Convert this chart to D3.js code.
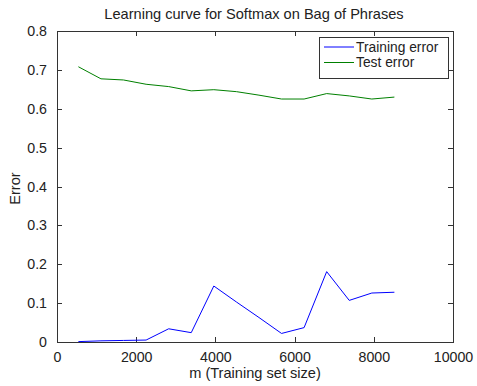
<!DOCTYPE html>
<html><head><meta charset="utf-8">
<script src="https://cdn.jsdelivr.net/npm/d3@7"></script>
<style>body{margin:0;background:#fff}svg{display:block}text{font-family:"Liberation Sans",Arial,sans-serif;fill:#222}</style>
</head><body>
<script>
const trainSizes = [540, 1110, 1680, 2250, 2820, 3390, 3960, 4530, 5100, 5670, 6240, 6810, 7380, 7950, 8520];
const trainingError = [0.001, 0.003, 0.004, 0.005, 0.034, 0.024, 0.144, 0.103, 0.063, 0.022, 0.037, 0.181, 0.107, 0.126, 0.128];
const testError = [0.708, 0.677, 0.674, 0.663, 0.657, 0.646, 0.649, 0.644, 0.635, 0.625, 0.625, 0.639, 0.633, 0.625, 0.630];
const xTicks = [0, 2000, 4000, 6000, 8000, 10000];
const yTicks = [0, 0.1, 0.2, 0.3, 0.4, 0.5, 0.6, 0.7, 0.8];
const seriesNames = ["Training error", "Test error"];
const seriesColors = ["#0000ff", "#008000"];

const W = 477, H = 386;
const L = 57, R = 453, T = 31, B = 342;
const svg = d3.select("body").append("svg").attr("width", W).attr("height", H);
const x = d3.scaleLinear().domain([0, 10000]).range([L, R]);
const y = d3.scaleLinear().domain([0, 0.8]).range([B, T]);

svg.append("rect").attr("x", L).attr("y", T).attr("width", R - L).attr("height", B - T)
  .attr("fill", "none").attr("stroke", "#333").attr("stroke-width", 1).attr("shape-rendering", "crispEdges");

const fmtY = d => d === 0 ? "0" : d3.format(".1f")(d);
const xb = svg.append("g").attr("transform", `translate(0,${B})`)
  .call(d3.axisBottom(x).tickValues(xTicks).tickSize(-5).tickPadding(11).tickFormat(d3.format("d")));
const xt = svg.append("g").attr("transform", `translate(0,${T})`)
  .call(d3.axisTop(x).tickValues(xTicks).tickSize(-5).tickFormat(""));
const yl = svg.append("g").attr("transform", `translate(${L},0)`)
  .call(d3.axisLeft(y).tickValues(yTicks).tickSize(-5).tickPadding(10).tickFormat(fmtY));
const yr = svg.append("g").attr("transform", `translate(${R},0)`)
  .call(d3.axisRight(y).tickValues(yTicks).tickSize(-5).tickFormat(""));
[xb, xt, yl, yr].forEach(g => {
  g.select(".domain").remove();
  g.selectAll("line").attr("stroke", "#333").attr("shape-rendering", "crispEdges");
  g.selectAll("text").attr("font-size", 14.2).attr("fill", "#222").attr("font-family", '"Liberation Sans",Arial,sans-serif');
});
xb.selectAll("text").attr("dy", "0.6em");

const line = d3.line().x((d, i) => x(trainSizes[i])).y(d => y(d));
[trainingError, testError].forEach((s, k) => {
  svg.append("path").datum(s).attr("d", line).attr("fill", "none")
    .attr("stroke", seriesColors[k]).attr("stroke-width", 1);
});

svg.append("text").attr("x", 254).attr("y", 19).attr("text-anchor", "middle").attr("font-size", 14.6)
  .text("Learning curve for Softmax on Bag of Phrases");
svg.append("text").attr("x", x(5000)).attr("y", 378).attr("text-anchor", "middle").attr("font-size", 14.6)
  .text("m (Training set size)");
svg.append("text").attr("transform", `translate(20,${(T + B) / 2 + 2}) rotate(-90)`).attr("text-anchor", "middle").attr("font-size", 14.6)
  .text("Error");

const lg = svg.append("g");
lg.append("rect").attr("x", 319.5).attr("y", 37.5).attr("width", 129).attr("height", 41)
  .attr("fill", "#fff").attr("stroke", "#333").attr("stroke-width", 1);
seriesNames.forEach((n, k) => {
  const yy = 47 + k * 15.5;
  lg.append("line").attr("x1", 324).attr("x2", 354).attr("y1", yy).attr("y2", yy)
    .attr("stroke", seriesColors[k]).attr("stroke-width", 1);
  lg.append("text").attr("x", 356).attr("y", yy).attr("dy", "0.35em").attr("font-size", 13.8).text(n);
});
</script>
</body></html>
